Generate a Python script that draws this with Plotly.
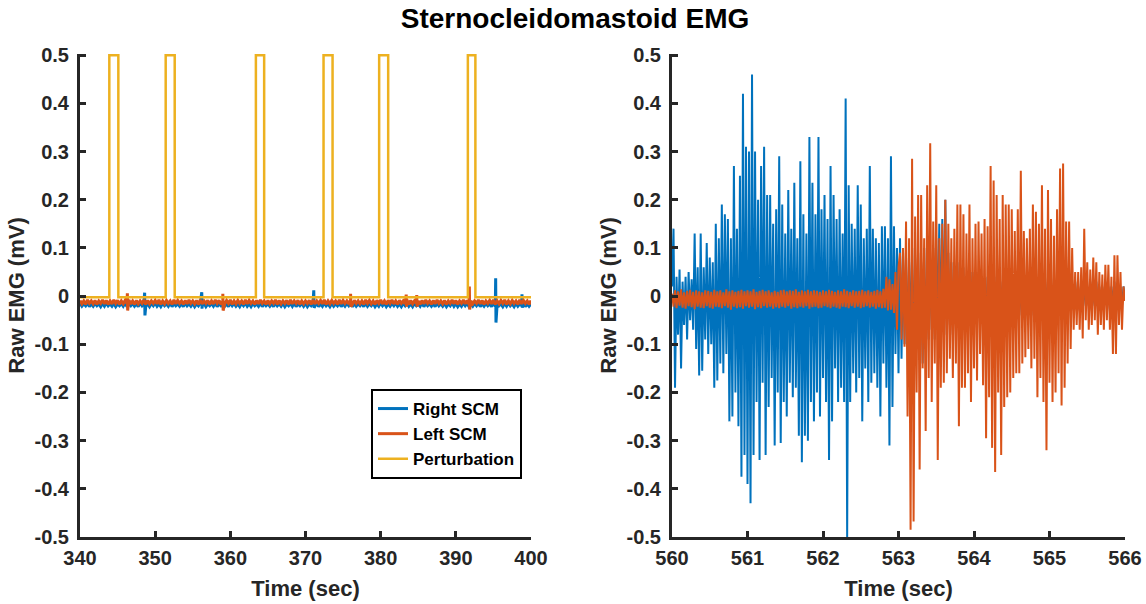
import plotly.graph_objects as go

# ---------------- data ----------------
# Left panel (340-400 s), background EMG sampled every 0.25 s
left_t0 = 340.0
left_dt = 0.25
right_scm_left = [
    -0.015, -0.021, -0.016, -0.020, -0.014, -0.022, -0.016, -0.021, -0.015, -0.020,
    -0.016, -0.022, -0.015, -0.021, -0.014, -0.020, -0.016, -0.021, -0.015, -0.022,
    -0.016, -0.020, -0.015, -0.021, -0.014, -0.022, -0.016, -0.020, -0.015, -0.021,
    -0.016, -0.022, -0.014, -0.020, -0.015, -0.021, -0.016, -0.022, -0.015, -0.020,
    -0.014, -0.021, -0.016, -0.022, -0.015, -0.020, -0.016, -0.021, -0.014, -0.022,
    -0.015, -0.020, -0.016, -0.021, -0.015, -0.022, -0.014, -0.020, -0.016, -0.021,
    -0.015, -0.022, -0.016, -0.020, -0.014, -0.021, -0.015, -0.022, -0.016, -0.020,
    -0.015, -0.021, -0.014, -0.022, -0.016, -0.020, -0.015, -0.021, -0.016, -0.022,
    -0.014, -0.020, -0.015, -0.021, -0.016, -0.022, -0.015, -0.020, -0.014, -0.021,
    -0.016, -0.022, -0.015, -0.020, -0.016, -0.021, -0.014, -0.022, -0.015, -0.020,
    -0.016, -0.021, -0.015, -0.022, -0.014, -0.020, -0.016, -0.021, -0.015, -0.022,
    -0.016, -0.020, -0.015, -0.021, -0.014, -0.022, -0.016, -0.020, -0.015, -0.021,
    -0.015, -0.022, -0.016, -0.020, -0.015, -0.021, -0.014, -0.022, -0.016, -0.021,
    -0.014, -0.020, -0.016, -0.022, -0.015, -0.021, -0.016, -0.020, -0.014, -0.022,
    -0.016, -0.021, -0.015, -0.020, -0.014, -0.022, -0.015, -0.021, -0.016, -0.020,
    -0.015, -0.022, -0.014, -0.021, -0.016, -0.020, -0.015, -0.022, -0.016, -0.021,
    -0.014, -0.020, -0.015, -0.022, -0.016, -0.021, -0.015, -0.020, -0.014, -0.021,
    -0.016, -0.022, -0.015, -0.020, -0.014, -0.021, -0.016, -0.022, -0.015, -0.020,
    -0.016, -0.021, -0.014, -0.022, -0.015, -0.020, -0.016, -0.021, -0.015, -0.022,
    -0.014, -0.020, -0.016, -0.021, -0.015, -0.022, -0.016, -0.020, -0.014, -0.021,
    -0.015, -0.022, -0.016, -0.021, -0.014, -0.020, -0.015, -0.022, -0.016, -0.021,
    -0.015, -0.020, -0.014, -0.022, -0.016, -0.021, -0.015, -0.020, -0.016, -0.022,
    -0.014, -0.021, -0.015, -0.020, -0.016, -0.022, -0.015, -0.021, -0.014, -0.020,
    -0.016, -0.022, -0.015, -0.021, -0.016, -0.020, -0.014, -0.022, -0.015, -0.021,
    -0.016,
]
left_scm_left = [
    -0.009, -0.016, -0.010, -0.017, -0.008, -0.015, -0.010, -0.016, -0.009, -0.017,
    -0.010, -0.015, -0.008, -0.016, -0.009, -0.017, -0.010, -0.016, -0.008, -0.015,
    -0.009, -0.017, -0.010, -0.016, -0.009, -0.015, -0.008, -0.016, -0.010, -0.017,
    -0.009, -0.016, -0.010, -0.015, -0.008, -0.017, -0.009, -0.016, -0.010, -0.015,
    -0.009, -0.016, -0.008, -0.017, -0.010, -0.016, -0.009, -0.015, -0.010, -0.017,
    -0.008, -0.016, -0.009, -0.015, -0.010, -0.017, -0.009, -0.016, -0.008, -0.015,
    -0.010, -0.016, -0.009, -0.017, -0.008, -0.016, -0.010, -0.015, -0.009, -0.017,
    -0.010, -0.016, -0.008, -0.015, -0.009, -0.017, -0.010, -0.016, -0.009, -0.015,
    -0.008, -0.017, -0.010, -0.016, -0.009, -0.015, -0.010, -0.017, -0.008, -0.016,
    -0.009, -0.015, -0.010, -0.017, -0.009, -0.016, -0.008, -0.015, -0.010, -0.017,
    -0.009, -0.016, -0.010, -0.015, -0.008, -0.017, -0.009, -0.016, -0.010, -0.015,
    -0.009, -0.017, -0.008, -0.016, -0.010, -0.015, -0.009, -0.017, -0.010, -0.016,
    -0.010, -0.015, -0.009, -0.017, -0.008, -0.016, -0.010, -0.015, -0.009, -0.016,
    -0.008, -0.017, -0.010, -0.016, -0.009, -0.015, -0.010, -0.017, -0.008, -0.016,
    -0.009, -0.015, -0.010, -0.016, -0.008, -0.017, -0.009, -0.015, -0.010, -0.016,
    -0.010, -0.017, -0.008, -0.015, -0.009, -0.016, -0.010, -0.017, -0.009, -0.015,
    -0.008, -0.016, -0.010, -0.017, -0.009, -0.015, -0.008, -0.016, -0.010, -0.017,
    -0.009, -0.015, -0.010, -0.016, -0.008, -0.017, -0.009, -0.016, -0.010, -0.015,
    -0.010, -0.017, -0.009, -0.016, -0.008, -0.015, -0.010, -0.017, -0.009, -0.016,
    -0.008, -0.015, -0.010, -0.016, -0.009, -0.017, -0.010, -0.015, -0.008, -0.016,
    -0.009, -0.017, -0.010, -0.015, -0.008, -0.016, -0.009, -0.017, -0.010, -0.016,
    -0.010, -0.015, -0.008, -0.016, -0.009, -0.017, -0.010, -0.015, -0.009, -0.016,
    -0.008, -0.017, -0.010, -0.016, -0.009, -0.015, -0.008, -0.017, -0.010, -0.016,
    -0.009, -0.015, -0.010, -0.017, -0.008, -0.016, -0.009, -0.015, -0.010, -0.017,
    -0.009,
]
# isolated spikes in the left panel (time, peak up, peak down)
right_scm_spike_t = [348.6, 356.2, 371.1, 395.3, 398.8]
right_scm_spike_up = [0.007, 0.008, 0.012, 0.037, 0.004]
right_scm_spike_dn = [-0.040, -0.026, -0.024, -0.055, -0.024]
left_scm_spike_t = [346.3, 359.0, 376.0, 383.4, 384.8, 391.8]
left_scm_spike_up = [0.006, 0.005, 0.005, 0.003, 0.002, 0.020]
left_scm_spike_dn = [-0.030, -0.030, -0.022, -0.022, -0.022, -0.028]

# Perturbation pulses
pulse_on = [343.9, 351.4, 363.4, 372.4, 379.8, 391.6]
pulse_off = [345.1, 352.6, 364.5, 373.6, 381.0, 392.6]
pulse_high = 0.5
pulse_base = -0.0025

# Right panel (560-566 s), sampled every 0.02 s
right_t0 = 560.0
right_dt = 0.02
right_scm_right = [
    0.02, 0.14, -0.19, 0.04, -0.08, 0.055, -0.15, 0.03, -0.06, 0.04,
    -0.09, 0.05, -0.05, 0.035, -0.07, 0.13, -0.11, 0.06, -0.165, 0.13,
    -0.155, 0.06, -0.09, 0.11, -0.12, 0.08, -0.10, 0.07, -0.19, 0.15,
    -0.175, 0.12, -0.14, 0.19, -0.16, 0.17, -0.12, 0.16, -0.26, 0.12,
    -0.25, 0.27, -0.20, 0.14, -0.27, 0.25, -0.375, 0.42, -0.33, 0.31,
    -0.39, 0.30, -0.43, 0.46, -0.33, 0.30, -0.22, 0.20, -0.34, 0.27,
    -0.18, 0.31, -0.33, 0.21, -0.23, 0.21, -0.17, 0.15, -0.31, 0.18,
    -0.20, 0.29, -0.305, 0.19, -0.22, 0.13, -0.25, 0.22, -0.18, 0.14,
    -0.21, 0.235, -0.19, 0.12, -0.29, 0.28, -0.345, 0.17, -0.29, 0.13,
    -0.30, 0.33, -0.22, 0.235, -0.26, 0.17, -0.20, 0.33, -0.25, 0.18,
    -0.17, 0.21, -0.22, 0.16, -0.34, 0.27, -0.26, 0.21, -0.15, 0.16,
    -0.22, 0.18, -0.19, 0.13, -0.22, 0.41, -0.50, 0.23, -0.22, 0.15,
    -0.16, 0.14, -0.20, 0.23, -0.17, 0.19, -0.26, 0.12, -0.15, 0.14,
    -0.22, 0.27, -0.18, 0.14, -0.16, 0.12, -0.19, 0.11, -0.25, 0.145,
    -0.14, 0.145, -0.19, 0.12, -0.31, 0.29, -0.23, 0.145, -0.12, 0.10,
    -0.16,
    0.12, -0.13, 0.09, -0.10, 0.08, -0.11, 0.07, -0.09, 0.10, -0.12,
    0.08, -0.10, 0.09, -0.12, 0.07, -0.14, 0.10, -0.08, 0.06, -0.09,
    0.08, -0.07, 0.10, -0.09, 0.12, -0.08, 0.15, -0.10, 0.16, -0.07,
    0.20, -0.08, 0.09, -0.06, 0.07, -0.08, 0.06, -0.05, 0.07, -0.06,
    0.05, -0.06, 0.06, -0.05, 0.04, -0.06, 0.05, -0.04, 0.05, -0.05,
    0.04, -0.05, 0.05, -0.04, 0.04, -0.05, 0.03, -0.04, 0.04, -0.05,
    0.04, -0.04, 0.03, -0.05, 0.04, -0.03, 0.05, -0.04, 0.03, -0.04,
    0.05, -0.03, 0.04, -0.05, 0.03, -0.04, 0.04, -0.03, 0.05, -0.04,
    0.03, -0.05, 0.04, -0.04, 0.03, -0.03, 0.05, -0.04, 0.04, -0.05,
    0.04, -0.03, 0.03, -0.04, 0.05, -0.05, 0.04, -0.03, 0.03, -0.04,
    0.04, -0.05, 0.03, -0.04, 0.04, -0.03, 0.05, -0.04, 0.03, -0.05,
    0.03, -0.03, 0.03, -0.03, 0.02, -0.03, 0.03, -0.02, 0.02, -0.03,
    0.02, -0.03, 0.03, -0.02, 0.02, -0.02, 0.03, -0.03, 0.02, -0.02,
    0.03, -0.02, 0.02, -0.03, 0.02, -0.02, 0.03, -0.02, 0.02, -0.03,
    0.02, -0.02, 0.03, -0.02, 0.02, -0.03, 0.02, -0.02, 0.02, -0.01,
]
left_scm_right = [
    0.005, -0.022, 0.012, -0.025, 0.010, -0.020, 0.014, -0.024, 0.008, -0.026,
    0.011, -0.021, 0.013, -0.023, 0.009, -0.027, 0.012, -0.022, 0.010, -0.024,
    0.008, -0.025, 0.012, -0.021, 0.011, -0.024, 0.009, -0.026, 0.013, -0.022,
    0.010, -0.023, 0.012, -0.025, 0.008, -0.021, 0.014, -0.024, 0.010, -0.028,
    0.012, -0.022, 0.009, -0.025, 0.011, -0.023, 0.013, -0.026, 0.010, -0.021,
    0.012, -0.024, 0.010, -0.022, 0.014, -0.027, 0.009, -0.023, 0.011, -0.025,
    0.013, -0.021, 0.010, -0.024, 0.012, -0.022, 0.008, -0.026, 0.011, -0.023,
    0.009, -0.025, 0.012, -0.022, 0.013, -0.024, 0.010, -0.021, 0.012, -0.026,
    0.011, -0.023, 0.014, -0.025, 0.009, -0.022, 0.012, -0.024, 0.010, -0.021,
    0.013, -0.026, 0.010, -0.023, 0.012, -0.022, 0.011, -0.025, 0.009, -0.024,
    0.012, -0.021, 0.010, -0.023, 0.013, -0.025, 0.011, -0.022, 0.009, -0.024,
    0.012, -0.026, 0.010, -0.022, 0.014, -0.023, 0.011, -0.025, 0.009, -0.021,
    0.012, -0.024, 0.010, -0.022, 0.011, -0.025, 0.013, -0.023, 0.010, -0.021,
    0.012, -0.024, 0.009, -0.022, 0.011, -0.026, 0.013, -0.023, 0.010, -0.025,
    0.015, -0.024, 0.040, -0.030, 0.035, -0.028, 0.025, -0.035, 0.050, -0.070,
    0.06,
    0.09, -0.09, 0.10, -0.105, 0.155, -0.25, 0.12, -0.485, 0.285, -0.468,
    0.165, -0.20, 0.21, -0.36, 0.21, -0.15, 0.12, -0.28, 0.23, -0.17,
    0.317, -0.22, 0.155, -0.14, 0.23, -0.34, 0.12, -0.19, 0.15, -0.18,
    0.20, -0.16, 0.15, -0.13, 0.12, -0.17, 0.14, -0.14, 0.19, -0.27,
    0.19, -0.19, 0.17, -0.19, 0.13, -0.16, 0.19, -0.22, 0.12, -0.15,
    0.15, -0.175, 0.155, -0.12, 0.13, -0.185, 0.16, -0.295, 0.145, -0.21,
    0.27, -0.315, 0.24, -0.365, 0.21, -0.20, 0.16, -0.33, 0.21, -0.23,
    0.19, -0.21, 0.19, -0.20, 0.18, -0.17, 0.135, -0.16, 0.18, -0.16,
    0.26, -0.14, 0.135, -0.127, 0.12, -0.11, 0.14, -0.15, 0.19, -0.13,
    0.175, -0.21, 0.15, -0.17, 0.23, -0.22, 0.14, -0.32, 0.22, -0.18,
    0.16, -0.22, 0.125, -0.20, 0.18, -0.16, 0.265, -0.227, 0.275, -0.19,
    0.155, -0.14, 0.155, -0.11, 0.10, -0.07, 0.05, -0.06, 0.05, -0.07,
    0.06, -0.088, 0.14, -0.05, 0.07, -0.07, 0.055, -0.06, 0.08, -0.05,
    0.07, -0.08, 0.05, -0.06, 0.045, -0.07, 0.065, -0.05, 0.065, -0.07,
    0.04, -0.12, 0.085, -0.12, 0.085, -0.06, 0.05, -0.07, 0.02, -0.01,
]

x_ticks_left = [340, 350, 360, 370, 380, 390, 400]
x_ticks_right = [560, 561, 562, 563, 564, 565, 566]
y_tickvals = [-0.5, -0.4, -0.3, -0.2, -0.1, 0, 0.1, 0.2, 0.3, 0.4, 0.5]
y_ticktext = ["-0.5", "-0.4", "-0.3", "-0.2", "-0.1", "0", "0.1", "0.2", "0.3", "0.4", "0.5"]

BLUE = "#0072BD"
ORANGE = "#D95319"
YELLOW = "#EDB120"
INK = "#262626"
FONT = "Liberation Sans, Arial, Helvetica, sans-serif"


def regular(t0, dt, values):
    return [t0 + i * dt for i in range(len(values))], list(values)


def with_spikes(t0, dt, base, st, su, sd):
    pts = [(t0 + i * dt, v) for i, v in enumerate(base)]
    for t, u, d in zip(st, su, sd):
        pts.append((t, u))
        pts.append((t + 0.04, d))
    pts.sort()
    return [p[0] for p in pts], [p[1] for p in pts]


def pulse_series(on, off, hi, base, x0, x1):
    xs, ys = [x0], [base]
    for a, b in zip(on, off):
        xs += [a, a, b, b]
        ys += [base, hi, hi, base]
    xs.append(x1)
    ys.append(base)
    return xs, ys


fig = go.Figure()

bx, by = with_spikes(left_t0, left_dt, right_scm_left, right_scm_spike_t, right_scm_spike_up, right_scm_spike_dn)
ox, oy = with_spikes(left_t0, left_dt, left_scm_left, left_scm_spike_t, left_scm_spike_up, left_scm_spike_dn)
px, py = pulse_series(pulse_on, pulse_off, pulse_high, pulse_base, x_ticks_left[0], x_ticks_left[-1])

fig.add_trace(go.Scatter(x=bx, y=by, mode="lines", name="Right SCM",
                         line=dict(color=BLUE, width=3), xaxis="x", yaxis="y"))
fig.add_trace(go.Scatter(x=ox, y=oy, mode="lines", name="Left SCM",
                         line=dict(color=ORANGE, width=3), xaxis="x", yaxis="y"))
fig.add_trace(go.Scatter(x=px, y=py, mode="lines", name="Perturbation",
                         line=dict(color=YELLOW, width=2.5), xaxis="x", yaxis="y"))

rx, ry = regular(right_t0, right_dt, right_scm_right)
lx, ly = regular(right_t0, right_dt, left_scm_right)
fig.add_trace(go.Scatter(x=rx, y=ry, mode="lines", name="Right SCM", showlegend=False,
                         line=dict(color=BLUE, width=2), xaxis="x2", yaxis="y2"))
fig.add_trace(go.Scatter(x=lx, y=ly, mode="lines", name="Left SCM", showlegend=False,
                         line=dict(color=ORANGE, width=2), xaxis="x2", yaxis="y2"))

W, H = 1146, 604


def px_x(x):
    return x / W


def px_y(y):
    return (H - y) / H


y_dom = [px_y(537), px_y(54)]

tick_font = dict(family=FONT, size=20, color=INK, weight="bold")
title_font = dict(family=FONT, size=22, color=INK, weight="bold")


def xaxis(dom, anchor, ticks):
    return dict(domain=dom, anchor=anchor, range=[ticks[0], ticks[-1]],
                tickvals=ticks, ticktext=[str(t) for t in ticks],
                showline=True, linecolor=INK, linewidth=3, ticks="inside",
                ticklen=6, tickwidth=3, tickcolor=INK, showgrid=False, zeroline=False,
                tickfont=tick_font, ticklabelstandoff=1,
                title=dict(text="Time (sec)", font=title_font, standoff=13),
                automargin=False)


def yaxis(anchor):
    return dict(domain=y_dom, anchor=anchor, range=[-0.5, 0.5025],
                tickvals=y_tickvals, ticktext=y_ticktext,
                showline=True, linecolor=INK, linewidth=3, ticks="inside",
                ticklen=6, tickwidth=3, tickcolor=INK, showgrid=False, zeroline=False,
                tickfont=tick_font, ticklabelstandoff=4,
                title=dict(text="Raw EMG (mV)", font=title_font, standoff=4),
                automargin=False)


fig.update_layout(
    width=W, height=H, autosize=False,
    margin=dict(l=0, r=0, t=0, b=0),
    paper_bgcolor="white", plot_bgcolor="white",
    title=dict(text="Sternocleidomastoid EMG", x=px_x(575), xanchor="center",
               y=px_y(18), yanchor="middle", yref="container",
               font=dict(family=FONT, size=28, color="black", weight="bold")),
    xaxis=xaxis([px_x(80), px_x(531)], "y", x_ticks_left),
    yaxis=yaxis("x"),
    xaxis2=xaxis([px_x(672), px_x(1125)], "y2", x_ticks_right),
    yaxis2=yaxis("x2"),
    legend=dict(x=px_x(522), xanchor="right", y=px_y(389), yanchor="top",
                bgcolor="white", bordercolor="black", borderwidth=2,
                font=dict(family=FONT, size=17, color="black", weight="bold"),
                itemwidth=30, tracegroupgap=0),
    showlegend=True,
)

# place the figure flush with the window corner (remove the default body margin)
fig.write_html("out.html", config={"displayModeBar": False},
               post_script="document.body.style.margin='0px';")
